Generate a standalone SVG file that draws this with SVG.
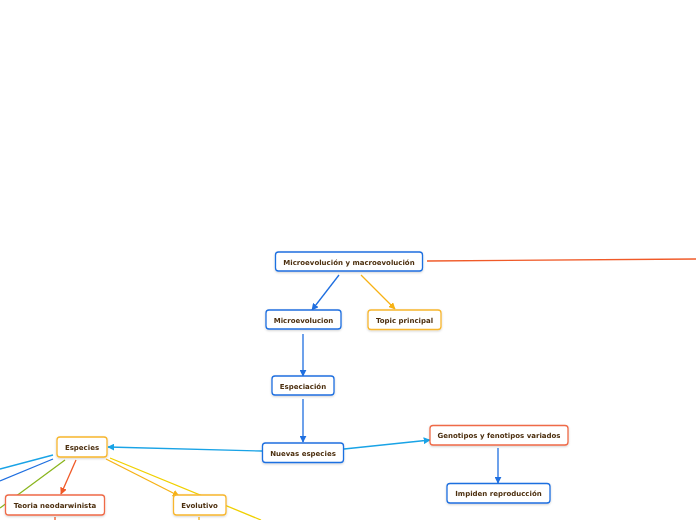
<svg xmlns="http://www.w3.org/2000/svg" width="696" height="520" viewBox="0 0 696 520">
<defs>
<style>
.n rect{fill:#fff;stroke-width:1.3}
.n text{font-family:"DejaVu Sans",Verdana,sans-serif;font-weight:bold;font-size:7px;fill:#4b2e0e;text-anchor:middle}
.b rect{stroke:#1f6fe0}
.o rect{stroke:#f7b62e}
.r rect{stroke:#ef6a47}
.c path,.c line{fill:none;stroke-width:1.3}
</style>
<marker id="mb" viewBox="0 0 10 10" refX="9" refY="5" markerWidth="7" markerHeight="7" orient="auto" markerUnits="userSpaceOnUse"><path d="M0,0L10,5L0,10z" fill="#1f6fe0"/></marker>
<marker id="ml" viewBox="0 0 10 10" refX="9" refY="5" markerWidth="7" markerHeight="7" orient="auto" markerUnits="userSpaceOnUse"><path d="M0,0L10,5L0,10z" fill="#19a3e6"/></marker>
<marker id="mo" viewBox="0 0 10 10" refX="9" refY="5" markerWidth="7" markerHeight="7" orient="auto" markerUnits="userSpaceOnUse"><path d="M0,0L10,5L0,10z" fill="#f7b215"/></marker>
<marker id="mr" viewBox="0 0 10 10" refX="9" refY="5" markerWidth="7" markerHeight="7" orient="auto" markerUnits="userSpaceOnUse"><path d="M0,0L10,5L0,10z" fill="#f05a28"/></marker>
<filter id="sh" x="-10%" y="-20%" width="120%" height="150%"><feDropShadow dx="0" dy="1" stdDeviation="0.8" flood-color="#000" flood-opacity="0.18"/></filter>
</defs>
<g id="connectors" class="c">
<line x1="427" y1="261" x2="696" y2="259" stroke="#f05a28"/>
<line x1="339" y1="275" x2="312" y2="310" stroke="#1f6fe0" marker-end="url(#mb)"/>
<line x1="361" y1="275" x2="395" y2="309" stroke="#f7b215" marker-end="url(#mo)"/>
<line x1="303" y1="334" x2="303" y2="376" stroke="#1f6fe0" marker-end="url(#mb)"/>
<line x1="303" y1="399" x2="303" y2="442" stroke="#1f6fe0" marker-end="url(#mb)"/>
<line x1="262" y1="451" x2="108" y2="447" stroke="#19a3e6" marker-end="url(#ml)"/>
<line x1="344" y1="449" x2="430" y2="440" stroke="#19a3e6" marker-end="url(#ml)"/>
<line x1="498" y1="448" x2="498" y2="483" stroke="#1f6fe0" marker-end="url(#mb)"/>
<line x1="53" y1="455" x2="0" y2="469" stroke="#19a3e6"/>
<line x1="53" y1="459" x2="0" y2="481" stroke="#1f6fe0"/>
<line x1="65" y1="460" x2="0" y2="508" stroke="#8ab51e"/>
<line x1="76" y1="460" x2="61" y2="494" stroke="#f05a28" marker-end="url(#mr)"/>
<line x1="106" y1="459" x2="179" y2="496" stroke="#f7b215" marker-end="url(#mo)"/>
<line x1="110" y1="458" x2="261" y2="520" stroke="#f0d000"/>
<line x1="55" y1="517" x2="55" y2="520" stroke="#f05a28"/>
<line x1="199" y1="517" x2="199" y2="520" stroke="#f7b215"/>
</g>
<g id="n1" class="n b" filter="url(#sh)"><rect x="275.5" y="252" width="147" height="19" rx="3"/><text x="349" y="264.5">Microevolución y macroevolución</text></g>
<g id="n2" class="n b" filter="url(#sh)"><rect x="266" y="310" width="75" height="19" rx="3"/><text x="303.5" y="322.5">Microevolucion</text></g>
<g id="n3" class="n o" filter="url(#sh)"><rect x="368" y="310" width="73" height="19.5" rx="3"/><text x="404.5" y="322.5">Topic principal</text></g>
<g id="n4" class="n b" filter="url(#sh)"><rect x="272" y="376" width="62" height="19" rx="3"/><text x="303" y="388.5">Especiación</text></g>
<g id="n5" class="n b" filter="url(#sh)"><rect x="262.5" y="443" width="81" height="19.5" rx="3"/><text x="303" y="455.5">Nuevas especies</text></g>
<g id="n6" class="n r" filter="url(#sh)"><rect x="430" y="425.5" width="138" height="19.5" rx="3"/><text x="499" y="438">Genotipos y fenotipos variados</text></g>
<g id="n7" class="n b" filter="url(#sh)"><rect x="447" y="483.5" width="103" height="19.5" rx="3"/><text x="498.5" y="496">Impiden reproducción</text></g>
<g id="n8" class="n o" filter="url(#sh)"><rect x="57" y="437" width="50" height="20" rx="3"/><text x="82" y="449.5">Especies</text></g>
<g id="n9" class="n r" filter="url(#sh)"><rect x="5.5" y="495" width="99" height="20" rx="3"/><text x="55" y="507.5">Teoria neodarwinista</text></g>
<g id="n10" class="n o" filter="url(#sh)"><rect x="173.5" y="495" width="52.5" height="20" rx="3"/><text x="199.5" y="507.5">Evolutivo</text></g>
</svg>
